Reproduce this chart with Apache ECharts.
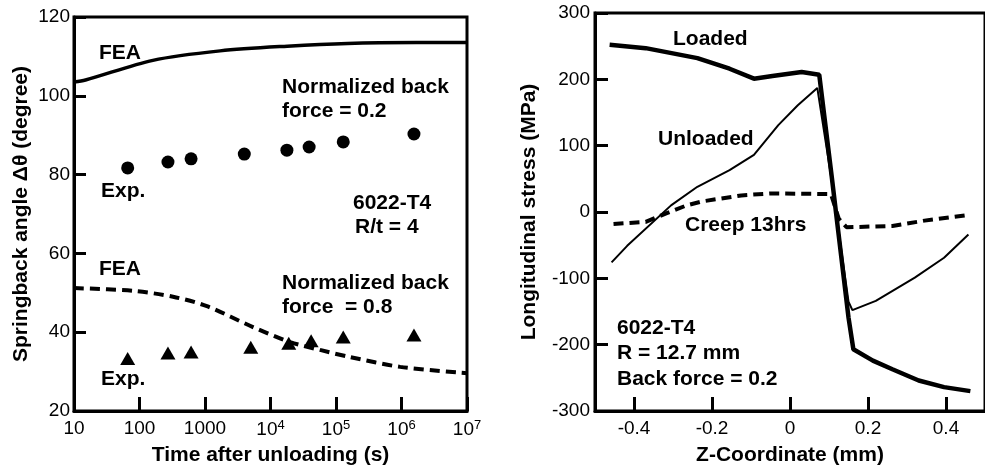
<!DOCTYPE html>
<html>
<head>
<meta charset="utf-8">
<script src="https://cdn.jsdelivr.net/npm/echarts@6/dist/echarts.min.js"></script>
<style>
  html, body { margin: 0; padding: 0; background: #fff; }
  #chart { width: 985px; height: 471px; }
</style>
</head>
<body>
<div id="chart"></div>
<script>
// left panel: springback angle vs time (log x)
const feaTime02 = [10, 15, 160, 1700, 18000, 150000, 1.7e6, 1e7];
const feaAngle02 = [103.5, 104, 109, 111.4, 112.6, 113.3, 113.5, 113.5];
const expTime02 = [66, 272, 613, 3980, 17800, 38900, 129000, 1.55e6];
const expAngle02 = [81.7, 83.2, 84, 85.2, 86.2, 87, 88.3, 90.3];
const feaTime08 = [10, 79, 325, 1070, 5400, 20000, 57000, 163000, 955000, 1e7];
const feaAngle08 = [51.2, 50.5, 49, 46.6, 41.3, 37.5, 35.5, 33.7, 31.2, 29.6];
const expTime08 = [66, 272, 613, 5000, 19000, 41700, 129000, 1.55e6];
const expAngle08 = [33.3, 34.7, 35, 36.2, 37.2, 37.8, 38.8, 39.3];

// right panel: stress through thickness
const zLoaded = [-0.4625, -0.37, -0.2375, -0.155, -0.0925, -0.045, 0.03, 0.075, 0.1075, 0.15, 0.1625, 0.2125, 0.2625, 0.33, 0.395, 0.4625];
const stressLoaded = [252, 247, 232, 216, 201, 205, 211, 207, 51, -159, -207, -224, -237, -254, -264, -270];
const zUnloaded = [-0.4575, -0.4175, -0.305, -0.2375, -0.155, -0.0925, -0.03, 0.02, 0.07, 0.105, 0.15, 0.16, 0.22, 0.32, 0.395, 0.4575];
const stressUnloaded = [-76, -51, 10, 38, 63, 86, 131, 161, 187, 55, -135, -148, -134, -99, -69, -34];
const zCreep = [-0.4525, -0.37, -0.3175, -0.265, -0.225, -0.125, -0.05, 0.105, 0.125, 0.145, 0.2625, 0.345, 0.4625];
const stressCreep = [-18, -15, -2, 10, 16, 25, 28, 27, -10, -23, -21, -13, -4];

const zTicks = [-0.4, -0.2, 0, 0.2, 0.4];

const pairs = (xs, ys) => xs.map((x, i) => [x, ys[i]]);

const FONT = '"Liberation Sans", Arial, Helvetica, sans-serif';
const tickLabel = { color: '#000', fontSize: 19, fontFamily: FONT };
const axisName = { color: '#000', fontSize: 21, fontWeight: 'bold', fontFamily: FONT };
const frame = { onZero: false, lineStyle: { color: '#000', width: 3 } };
const tick = (len) => ({ inside: true, length: len, lineStyle: { color: '#000', width: 3 } });

function note(text, x, y) {
  return {
    type: 'text', left: x, top: y - 11,
    style: { text: text, fill: '#000', font: 'bold 21px ' + FONT }
  };
}

const myChart = echarts.init(document.getElementById('chart'));

const option = {
  backgroundColor: '#fff',
  animation: false,
  grid: [
    { left: 74, top: 17, width: 393, height: 394, show: true, borderColor: '#000', borderWidth: 3 },
    { left: 595, top: 13, width: 400, height: 400, show: true, borderColor: '#000', borderWidth: 3 }
  ],
  xAxis: [
    {
      gridIndex: 0, type: 'log', logBase: 10, min: 10, max: 1e7,
      name: 'Time after unloading (s)', nameLocation: 'middle', nameGap: 31, nameTextStyle: axisName,
      axisLine: frame, axisTick: tick(14), splitLine: { show: false }, minorTick: { show: false },
      axisLabel: Object.assign({}, tickLabel, {
        margin: 8,
        formatter: function (v) {
          const p = Math.round(Math.log10(v));
          if (p <= 3) return String(Math.pow(10, p));
          return '10{sup|' + p + '}';
        },
        rich: { sup: { fontSize: 13, fontFamily: FONT, color: '#000', verticalAlign: 'top', padding: [0, 0, 9, 0] } }
      })
    },
    {
      gridIndex: 1, type: 'value', min: -0.5, max: 0.5,
      name: 'Z-Coordinate (mm)', nameLocation: 'middle', nameGap: 34, nameTextStyle: axisName,
      axisLine: frame, splitLine: { show: false },
      axisTick: Object.assign(tick(14), { customValues: zTicks }),
      axisLabel: Object.assign({}, tickLabel, { margin: 8, customValues: zTicks })
    }
  ],
  yAxis: [
    {
      gridIndex: 0, type: 'value', min: 20, max: 120, interval: 20,
      name: 'Springback angle \u0394\u03b8 (degree)', nameLocation: 'middle', nameGap: 42, nameTextStyle: axisName,
      axisLine: frame, axisTick: tick(12), splitLine: { show: false },
      axisLabel: Object.assign({}, tickLabel, { margin: 4 })
    },
    {
      gridIndex: 1, type: 'value', min: -300, max: 300, interval: 100,
      name: 'Longitudinal stress (MPa)', nameLocation: 'middle', nameGap: 55, nameTextStyle: axisName,
      axisLine: frame, axisTick: tick(13), splitLine: { show: false },
      axisLabel: Object.assign({}, tickLabel, { margin: 5 })
    }
  ],
  series: [
    {
      type: 'line', xAxisIndex: 0, yAxisIndex: 0, data: pairs(feaTime02, feaAngle02),
      smooth: 0.3, showSymbol: false, lineStyle: { color: '#000', width: 3.5 }
    },
    {
      type: 'line', xAxisIndex: 0, yAxisIndex: 0, data: pairs(feaTime08, feaAngle08),
      smooth: 0.3, showSymbol: false, lineStyle: { color: '#000', width: 4, type: [10, 6] }
    },
    {
      type: 'scatter', xAxisIndex: 0, yAxisIndex: 0, data: pairs(expTime02, expAngle02),
      symbol: 'circle', symbolSize: 13, itemStyle: { color: '#000', opacity: 1 }
    },
    {
      type: 'scatter', xAxisIndex: 0, yAxisIndex: 0, data: pairs(expTime08, expAngle08),
      symbol: 'triangle', symbolSize: [15, 13], itemStyle: { color: '#000', opacity: 1 }
    },
    {
      type: 'line', xAxisIndex: 1, yAxisIndex: 1, data: pairs(zCreep, stressCreep),
      showSymbol: false, lineStyle: { color: '#000', width: 4, type: [10, 6] }
    },
    {
      type: 'line', xAxisIndex: 1, yAxisIndex: 1, data: pairs(zUnloaded, stressUnloaded),
      showSymbol: false, lineStyle: { color: '#000', width: 2 }
    },
    {
      type: 'line', xAxisIndex: 1, yAxisIndex: 1, data: pairs(zLoaded, stressLoaded),
      showSymbol: false, lineStyle: { color: '#000', width: 4.5 }
    }
  ],
  graphic: [
    note('FEA', 99, 54),
    note('Normalized back', 282, 88),
    note('force = 0.2', 282, 112),
    note('Exp.', 101, 192),
    note('6022-T4', 353, 204),
    note('R/t = 4', 355, 228),
    note('FEA', 99, 270),
    note('Normalized back', 282, 284),
    note('force  = 0.8', 282, 308),
    note('Exp.', 101, 380),
    note('Loaded', 673, 40),
    note('Unloaded', 658, 140),
    note('Creep 13hrs', 685, 226),
    note('6022-T4', 617, 329),
    note('R = 12.7 mm', 617, 354),
    note('Back force = 0.2', 617, 380)
  ]
};

myChart.setOption(option);
</script>
</body>
</html>
